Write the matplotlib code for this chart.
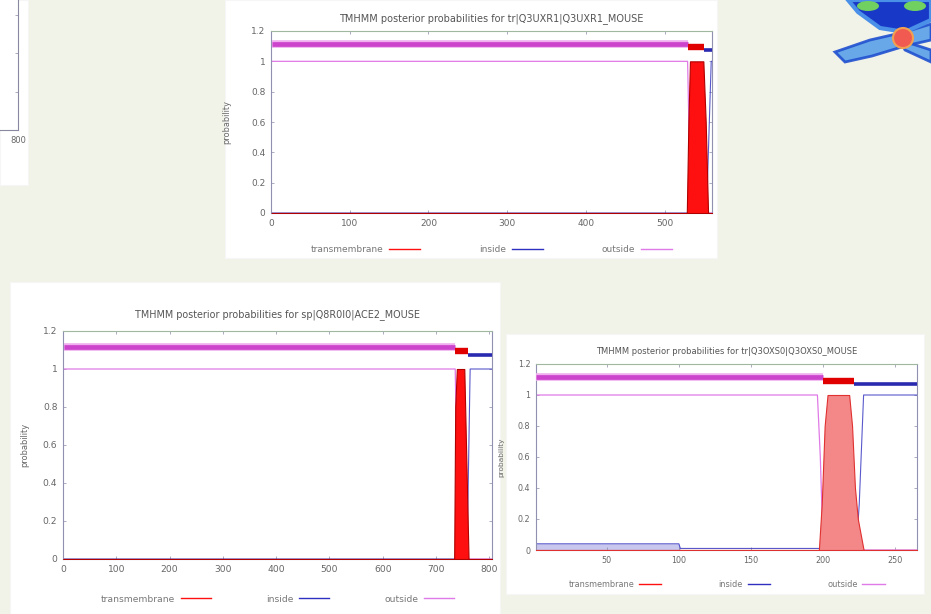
import matplotlib.pyplot as plt
from matplotlib.patches import Rectangle, Ellipse, Circle, Polygon
from matplotlib.lines import Line2D

W, H = 931, 614

# ---- data ----
# plot 1: tr|Q3UXR1|Q3UXR1_MOUSE
p1_len = 560
p1_tm_x = [1, 528, 530, 532, 549, 552, 555, 560]
p1_tm_p = [0, 0, 0.6, 1.0, 1.0, 0.6, 0, 0]
p1_out_x = [1, 529, 533, 560]
p1_out_p = [1, 1, 0, 0]
p1_in_x = [1, 553, 559, 560]
p1_in_p = [0, 0, 1, 1]
p1_topo = [("outside", 1, 529), ("tm", 529, 550), ("inside", 550, 560)]
p1_xticks = [0, 100, 200, 300, 400, 500]

# plot 2: sp|Q8R0I0|ACE2_MOUSE
p2_len = 805
p2_tm_x = [1, 734, 736, 739, 753, 757, 761, 805]
p2_tm_p = [0, 0, 0.8, 1.0, 1.0, 0.5, 0, 0]
p2_out_x = [1, 736, 742, 805]
p2_out_p = [1, 1, 0, 0]
p2_in_x = [1, 758, 764, 805]
p2_in_p = [0, 0, 1, 1]
p2_topo = [("outside", 1, 735), ("tm", 735, 760), ("inside", 760, 805)]
p2_xticks = [0, 100, 200, 300, 400, 500, 600, 700, 800]

# plot 3: tr|Q3OXS0|Q3OXS0_MOUSE
p3_len = 265
p3_tm_x = [1, 197, 199, 201, 203, 218, 220, 222, 224, 226, 228, 265]
p3_tm_p = [0, 0, 0.3, 0.8, 1.0, 1.0, 0.8, 0.4, 0.2, 0.1, 0, 0]
p3_out_x = [1, 196, 198, 200, 265]
p3_out_p = [1, 1, 0.6, 0, 0]
p3_in_x = [1, 100, 101, 196, 223, 225, 228, 265]
p3_in_p = [0.04, 0.04, 0.01, 0.01, 0.01, 0.3, 1, 1]
p3_topo = [("outside", 1, 200), ("tm", 200, 221), ("inside", 221, 265)]
p3_xticks = [50, 100, 150, 200, 250]

yticks = [0, 0.2, 0.4, 0.6, 0.8, 1, 1.2]
ytick_labels = ["0", "0.2", "0.4", "0.6", "0.8", "1", "1.2"]
legend_labels = ["transmembrane", "inside", "outside"]

RED = "#ff1010"
BLUE = "#3030c0"
PINK = "#e07ae6"
MAGENTA = "#cc44cc"
topo_style = {"outside": (1.115, MAGENTA, 3.4), "tm": (1.093, "#e00000", 4.6),
              "inside": (1.072, "#2a2ab0", 2.6)}


def box(x0, y0, x1, y1):
    return [x0 / W, 1 - y1 / H, (x1 - x0) / W, (y1 - y0) / H]


fig = plt.figure(figsize=(W / 100, H / 100), dpi=100, facecolor="#f2f3e8")

# white screenshot panels on the slide
for x0, y0, x1, y1 in [(225, 0, 717, 258), (10, 282, 500, 614), (506, 334, 924, 594), (0, 0, 28, 185)]:
    b = box(x0, y0, x1, y1)
    fig.patches.append(Rectangle((b[0], b[1]), b[2], b[3], transform=fig.transFigure,
                                 facecolor="white", edgecolor="#f6f6f6", lw=0.8, zorder=-5))


def tmhmm(pos, title, length, xticks, tm_x, tm_p, out_x, out_p, in_x, in_p, topo,
          fs_title, fs_tick, fs_leg, tm_face, tm_edge, in_fill=False, title_pad=5,
          leg_y=-0.12, colsp=7.0, hlen=3.5, xmin=0, ylab_pad=10):
    ax = fig.add_axes(box(*pos))
    ax.plot(out_x, out_p, color=PINK, lw=0.9, zorder=2)
    ax.plot(in_x, in_p, color=BLUE, lw=0.8, alpha=0.8, zorder=2)
    ax.fill_between(tm_x, tm_p, color=tm_face, lw=0.8, edgecolor=tm_edge, zorder=3)
    if in_fill:
        ax.fill_between(in_x[:3], in_p[:3], color="#c8c8ee", lw=0, zorder=1)
    for kind, a, b in topo:
        y, c, lw = topo_style[kind]
        ax.plot([a, b], [y, y], color=c, lw=lw, solid_capstyle="butt", zorder=5)
        if kind == "outside":
            ax.plot([a, b], [y, y], color="#f0b0f0", lw=5.5, solid_capstyle="butt", zorder=4)
    ax.set_xlim(xmin, length)
    ax.set_ylim(0, 1.2)
    ax.set_xticks(xticks)
    ax.set_yticks(yticks)
    ax.set_yticklabels(ytick_labels)
    ax.tick_params(direction="in", length=2, width=0.5, colors="#8a8aa8", labelcolor="#666666",
                   labelsize=fs_tick, top=True, right=True, pad=4)
    for s in ax.spines.values():
        s.set_color("#9090b0")
        s.set_linewidth(0.8)
    ax.spines["top"].set_color("#a0b8a0")
    ax.set_ylabel("probability", fontsize=fs_leg * 0.9, color="#666666", labelpad=ylab_pad)
    ax.set_title(title, fontsize=fs_title, color="#555555", pad=title_pad)
    handles = [Line2D([], [], color=RED, lw=1), Line2D([], [], color=BLUE, lw=1),
               Line2D([], [], color=PINK, lw=1)]
    ax.legend(handles, legend_labels, loc="upper center", bbox_to_anchor=(0.5, leg_y), ncol=3,
              frameon=False, markerfirst=False, fontsize=fs_leg, handlelength=hlen, handletextpad=0.6,
              columnspacing=colsp, labelcolor="#777777")
    return ax


tmhmm((271, 31, 712, 213), "TMHMM posterior probabilities for tr|Q3UXR1|Q3UXR1_MOUSE", p1_len,
      p1_xticks, p1_tm_x, p1_tm_p, p1_out_x, p1_out_p, p1_in_x, p1_in_p, p1_topo,
      7.0, 6.5, 6.5, RED, "#b00000", title_pad=7, leg_y=-0.13, colsp=6.5, hlen=3.5, ylab_pad=14)

tmhmm((63, 331, 492, 559), "TMHMM posterior probabilities for sp|Q8R0I0|ACE2_MOUSE", p2_len,
      p2_xticks, p2_tm_x, p2_tm_p, p2_out_x, p2_out_p, p2_in_x, p2_in_p, p2_topo,
      6.9, 6.6, 6.6, RED, "#b00000", title_pad=10, leg_y=-0.12, colsp=6.0, hlen=3.3, ylab_pad=10)

tmhmm((536, 364, 917, 550), "TMHMM posterior probabilities for tr|Q3OXS0|Q3OXS0_MOUSE", p3_len,
      p3_xticks, p3_tm_x, p3_tm_p, p3_out_x, p3_out_p, p3_in_x, p3_in_p, p3_topo,
      6.0, 5.8, 5.9, "#f48888", "#e03030", in_fill=True, title_pad=7, leg_y=-0.12, xmin=1,
      colsp=7.0, hlen=2.7, ylab_pad=10)

# edge of a fourth plot cut off at the left of the slide
ax0 = fig.add_axes(box(-380, -100, 18, 130))
ax0.set_xlim(0, 800)
ax0.set_ylim(0, 1.2)
ax0.set_xticks([800])
ax0.set_yticks(yticks)
ax0.set_yticklabels([])
ax0.plot([1, 800], [1.0, 1.0], color=PINK, lw=0.8)
ax0.tick_params(direction="in", length=2, width=0.5, colors="#8a8aa8", labelcolor="#666666",
                labelsize=6, right=True, pad=4)
for s in ax0.spines.values():
    s.set_color("#8888a0")

# emblem in the top right corner of the slide
logo = fig.add_axes([0, 0, 1, 1], facecolor="none")
logo.set_xlim(0, W)
logo.set_ylim(H, 0)
logo.axis("off")
logo.add_patch(Polygon([[835, 52], [870, 40], [905, 32], [931, 24], [931, 40], [905, 46], [872, 56], [845, 62]],
                       closed=True, facecolor="#5aa0e8", edgecolor="#2050d0", lw=2, alpha=0.9))
logo.add_patch(Polygon([[900, 40], [931, 50], [931, 62], [905, 50]],
                       closed=True, facecolor="#5aa0e8", edgecolor="#2050d0", lw=2, alpha=0.9))
logo.add_patch(Polygon([[848, 0], [931, 0], [931, 20], [905, 32], [880, 28], [858, 12]],
                       closed=True, facecolor="#1838c8", edgecolor="#4a90e8", lw=3))
logo.add_patch(Ellipse((868, 6), 22, 10, facecolor="#70d060", edgecolor="none"))
logo.add_patch(Ellipse((915, 6), 22, 10, facecolor="#70d060", edgecolor="none"))
logo.add_patch(Circle((903, 38), 10, facecolor="#f05a50", edgecolor="#f0a050", lw=1.5))

fig.savefig("out.png", dpi=100, facecolor=fig.get_facecolor())
